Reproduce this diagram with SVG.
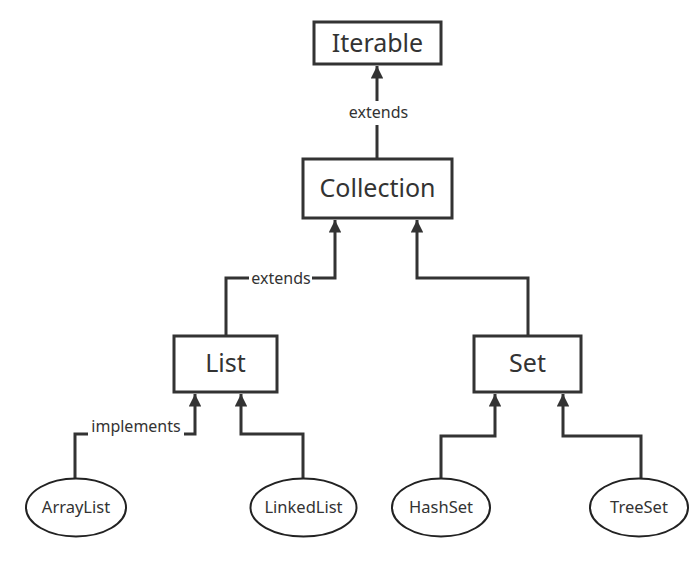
<svg xmlns="http://www.w3.org/2000/svg" width="697" height="572" viewBox="0 0 697 572">
  <defs>
    <marker id="arrow" viewBox="0 0 10 10" refX="10" refY="5" markerWidth="4.2" markerHeight="4.2" orient="auto" markerUnits="strokeWidth">
      <path d="M0,0 L10,5 L0,10 Z" fill="#333"/>
    </marker>
    <style>
      .box { fill: #fff; stroke: #333; stroke-width: 3; }
      .oval { fill: #fff; stroke: #222; stroke-width: 2; }
      .edge { fill: none; stroke: #333; stroke-width: 3; marker-end: url(#arrow); }
      .big { font-family: "Noto Sans", "Open Sans", sans-serif; font-size: 25px; fill: #333; text-anchor: middle; }
      .small { font-family: "Noto Sans", "Open Sans", sans-serif; font-size: 16.5px; fill: #333; text-anchor: middle; }
      .lbl { font-family: "Noto Sans", "Open Sans", sans-serif; font-size: 16px; fill: #333; text-anchor: middle; }
      .lblbg { fill: #fff; }
    </style>
  </defs>
  <rect width="697" height="572" fill="#fff"/>

  <g id="connectors">
    <path class="edge" d="M377,159 L377,66"/>
    <path class="edge" d="M226,336 L226,278 L335,278 L335,220"/>
    <path class="edge" d="M528,336 L528,278 L417,278 L417,220"/>
    <path class="edge" d="M75,478 L75,434 L195,434 L195,394"/>
    <path class="edge" d="M303,478 L303,434 L241,434 L241,394"/>
    <path class="edge" d="M441,478 L441,436 L495,436 L495,394"/>
    <path class="edge" d="M641,478 L641,436 L563,436 L563,394"/>
    <rect class="lblbg" x="346" y="101" width="64" height="24"/>
    <text class="lbl" x="378.5" y="118">extends</text>
    <rect class="lblbg" x="249" y="267" width="63" height="22"/>
    <text class="lbl" x="281" y="284">extends</text>
    <rect class="lblbg" x="88" y="415" width="96" height="22"/>
    <text class="lbl" x="136" y="432">implements</text>
  </g>

  <g id="node-iterable">
    <rect class="box" x="314" y="22" width="127" height="42"/>
    <text class="big" x="377.5" y="52">Iterable</text>
  </g>
  <g id="node-collection">
    <rect class="box" x="303" y="159" width="149" height="59"/>
    <text class="big" x="377.5" y="197">Collection</text>
  </g>
  <g id="node-list">
    <rect class="box" x="174" y="336" width="103" height="56"/>
    <text class="big" x="225.5" y="372">List</text>
  </g>
  <g id="node-set">
    <rect class="box" x="474" y="336" width="107" height="56"/>
    <text class="big" x="527.5" y="372">Set</text>
  </g>
  <g id="node-arraylist">
    <ellipse class="oval" cx="76" cy="507.5" rx="50" ry="29"/>
    <text class="small" x="76" y="513">ArrayList</text>
  </g>
  <g id="node-linkedlist">
    <ellipse class="oval" cx="303.5" cy="507.5" rx="53" ry="29"/>
    <text class="small" x="303.5" y="513">LinkedList</text>
  </g>
  <g id="node-hashset">
    <ellipse class="oval" cx="441" cy="507.5" rx="49" ry="29"/>
    <text class="small" x="441" y="513">HashSet</text>
  </g>
  <g id="node-treeset">
    <ellipse class="oval" cx="639" cy="507.5" rx="49" ry="29"/>
    <text class="small" x="639" y="513">TreeSet</text>
  </g>
</svg>
